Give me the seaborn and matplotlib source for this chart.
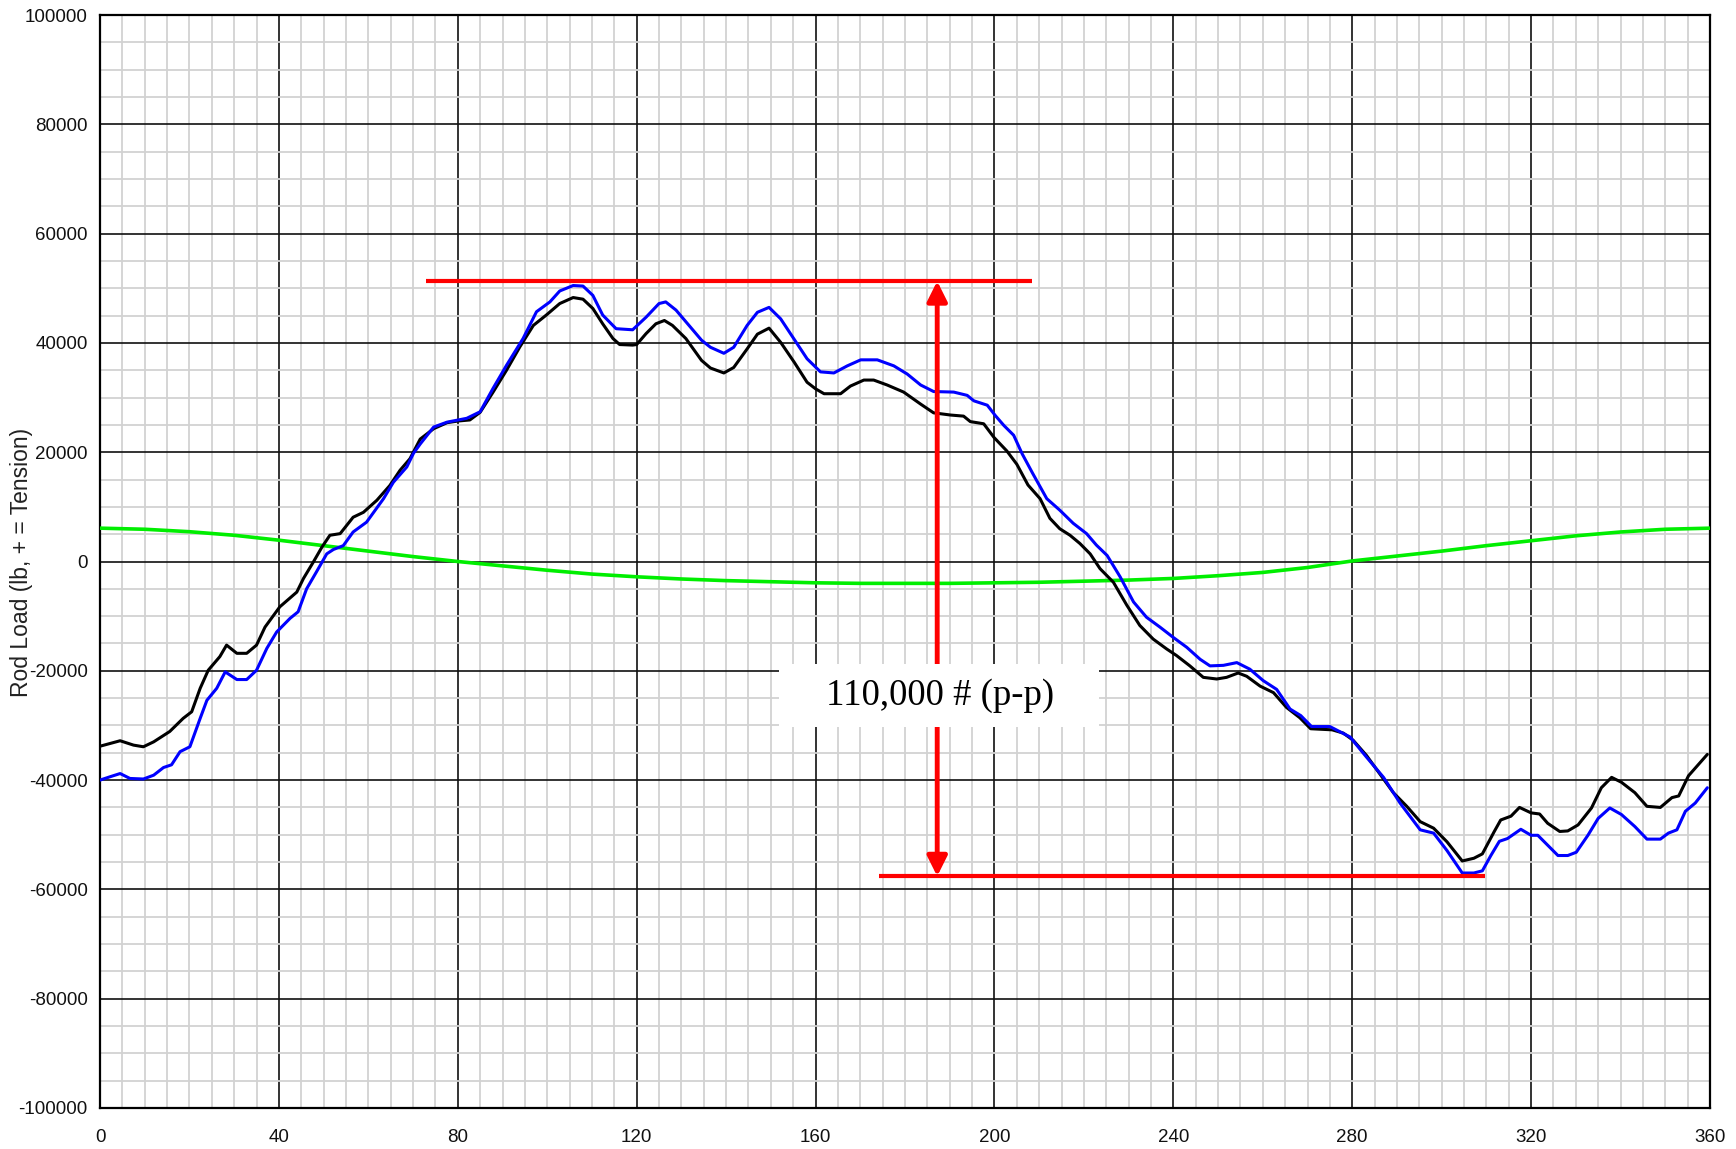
import numpy as np
import pandas as pd
import matplotlib
matplotlib.use("Agg")
import matplotlib.pyplot as plt
from matplotlib.ticker import MultipleLocator, FuncFormatter
from matplotlib.patches import Rectangle
import seaborn as sns

# Crank angle (deg) and rod load (lb) for the measured rod load trace
black_angle = [0, 4.5, 7.5, 9.7, 12, 15.6, 18.6, 20.5, 22.4, 24.2, 26.8, 28.3, 30.6, 32.8, 35,
               36.9, 40.2, 44, 45.5, 47.7, 49.6, 51.4, 53.7, 56.6, 58.9, 61.9, 64.8, 67.1, 69.3,
               71.6, 74.6, 77.6, 80, 82.7, 85, 87.9, 90.9, 93.9, 96.9, 99.8, 102.8, 105.8, 108,
               110.2, 112.4, 114.7, 116.2, 119.1, 120, 122.1, 124.3, 126.2, 128, 131, 134.5,
               136.5, 139.5, 141.7, 144.7, 147, 149.6, 152.2, 155.2, 158.1, 160, 161.9, 165.6,
               167.8, 170.8, 173, 176, 179.7, 183.5, 186.4, 190.2, 193.1, 194.6, 197.6, 199.9,
               202.8, 205, 207.5, 210.2, 212.4, 214.6, 216.9, 219.1, 221.4, 223.6, 226.6, 229.6,
               232.5, 235.5, 238.5, 240.7, 243.7, 246.7, 249.7, 251.9, 254.5, 256.4, 259.4, 262.4,
               265.3, 268.3, 270.7, 275.5, 278, 280.2, 283.2, 286.2, 289.2, 292.2, 295.2, 298.2,
               301.2, 304.6, 307.2, 309.1, 311.7, 313.2, 315.5, 317.4, 320, 321.9, 323.7, 326.4,
               328.2, 330.5, 333.5, 335.7, 338, 340.2, 343.2, 345.9, 348.9, 351.5, 353, 355.2,
               359.4]
black_load = [-33800, -32800, -33600, -33900, -33000, -31100, -28700, -27500, -23200, -19900,
              -17400, -15300, -16800, -16800, -15300, -12000, -8300, -5600, -3100, -100, 2600,
              4800, 5100, 8100, 9000, 11200, 13900, 16700, 18800, 22400, 24300, 25400, 25700,
              25900, 27300, 31000, 35000, 39300, 43200, 45100, 47200, 48300, 48000, 46300, 43500,
              40800, 39700, 39600, 39700, 41700, 43500, 44100, 43200, 40800, 36800, 35400, 34500,
              35500, 38900, 41600, 42700, 40100, 36500, 32800, 31600, 30700, 30700, 32100, 33200,
              33200, 32300, 31000, 28800, 27200, 26800, 26600, 25600, 25200, 22700, 20200, 17800,
              14000, 11500, 7900, 6000, 4800, 3300, 1400, -1300, -3800, -8000, -11700, -14200,
              -16000, -17200, -19100, -21200, -21500, -21200, -20400, -21000, -22800, -24000,
              -26700, -28600, -30600, -30800, -31400, -32700, -35500, -38900, -42300, -44800,
              -47600, -48800, -51300, -54800, -54300, -53500, -49500, -47300, -46600, -45000,
              -46000, -46200, -47900, -49400, -49300, -48200, -45100, -41400, -39500, -40400,
              -42300, -44800, -45000, -43200, -42900, -39200, -35300]

# Calculated rod load trace
blue_angle = [0, 2.2, 4.5, 6.7, 9.7, 12, 14.2, 16, 17.9, 20.1, 22.4, 23.9, 26.1, 28, 30.6, 32.8,
              35, 37.3, 39.5, 42.5, 44.3, 46.2, 48.4, 50.7, 52.2, 54.4, 56.6, 59.6, 63.4, 65.6,
              68.6, 70.1, 71.6, 74.6, 77.6, 82, 85, 87.9, 90.9, 94.6, 97.6, 100.6, 102.8, 105.8,
              108, 110.2, 112.4, 115.4, 119.1, 122.1, 125, 126.5, 128.8, 131.7, 134.5, 136.5,
              139.5, 141.7, 144.7, 147, 149.6, 152.2, 155.2, 158.1, 161.1, 164.1, 167.1, 170.1,
              173.8, 177.5, 180.5, 183.5, 186.4, 190.9, 193.9, 195.4, 198.4, 200.2, 202.1, 204.3,
              206.2, 208.5, 211.7, 214.6, 217.6, 220.6, 222.8, 225.2, 228.1, 231.1, 234, 237, 240,
              243, 246, 248.2, 251.2, 254.2, 257.1, 260.1, 263.1, 266.1, 268.5, 270.9, 275, 279.5,
              283.2, 287, 290.7, 295.2, 298.2, 301.2, 304.6, 307.2, 309.1, 311, 312.9, 314.7,
              317.7, 320, 321.5, 323.7, 326, 328.2, 330.1, 332.7, 335, 337.6, 340.2, 343.2, 345.9,
              348.9, 350.7, 352.6, 354.5, 356.7, 359.4]
blue_load = [-40000, -39400, -38800, -39700, -39800, -39100, -37700, -37200, -34800, -33900,
             -28700, -25400, -23200, -20200, -21600, -21600, -19900, -15900, -12900, -10400,
             -9200, -5000, -1900, 1400, 2200, 2900, 5400, 7200, 11500, 14500, 17300, 19800, 21500,
             24600, 25500, 26200, 27400, 31700, 35900, 40800, 45700, 47500, 49500, 50500, 50400,
             48700, 45100, 42600, 42400, 44700, 47200, 47500, 46000, 43200, 40500, 39200, 38100,
             39200, 43200, 45600, 46500, 44400, 40700, 37100, 34700, 34500, 35800, 36900, 36900,
             35800, 34300, 32300, 31100, 31000, 30400, 29400, 28600, 26700, 24900, 23100, 19700,
             16200, 11500, 9400, 7000, 5100, 3000, 1100, -2800, -7400, -10200, -12000, -13900,
             -15700, -17900, -19100, -19000, -18500, -19700, -21800, -23400, -27000, -28200,
             -30200, -30200, -32100, -35800, -39500, -44200, -49100, -49700, -52900, -57000,
             -57000, -56600, -53800, -51200, -50700, -49000, -50100, -50100, -51900, -53800,
             -53800, -53200, -50100, -47000, -45100, -46300, -48500, -50800, -50800, -49700,
             -49100, -45700, -44200, -41400]

# Gas load component
green_angle = [0, 10, 20, 30, 40, 50, 60, 70, 80, 90, 100, 110, 120, 130, 140, 150, 160, 170,
               180, 190, 200, 210, 220, 230, 240, 250, 260, 270, 280, 290, 300, 310, 320, 330,
               340, 350, 360]
green_load = [6100, 5900, 5450, 4800, 3900, 2900, 1900, 900, 0, -800, -1600, -2300, -2800, -3200,
              -3500, -3700, -3900, -4000, -4000, -4000, -3900, -3800, -3600, -3400, -3100, -2600,
              -2000, -1100, 100, 1000, 1900, 2900, 3800, 4700, 5400, 5900, 6100]

# Peak-to-peak markers
peak_span = [72.8, 208.5]
peak_load = 51300
trough_span = [174.2, 309.8]
trough_load = -57600
arrow_angle = 187.2
pp_label = "110,000 # (p-p)"
label_angle = 187.9
label_load = -24500
label_box_angle = [151.8, 223.4]
label_box_load = [-30300, -18750]

x_ticks = list(range(0, 361, 40))
y_ticks = list(range(-100000, 100001, 20000))

sns.set_theme(style="white")
plt.rcParams["font.family"] = ["Liberation Sans", "DejaVu Sans"]

fig = plt.figure(figsize=(17.36, 11.49), dpi=100, facecolor="white")
ax = fig.add_axes([100 / 1736, 1 - 1108 / 1149, 1610 / 1736, 1093 / 1149])
ax.set_facecolor("white")

df_black = pd.DataFrame({"angle": black_angle, "load": black_load})
df_blue = pd.DataFrame({"angle": blue_angle, "load": blue_load})
df_green = pd.DataFrame({"angle": green_angle, "load": green_load})

sns.lineplot(data=df_green, x="angle", y="load", color="#00ee00", linewidth=2.6, ax=ax,
             estimator=None, sort=False, zorder=3)
sns.lineplot(data=df_black, x="angle", y="load", color="black", linewidth=2.2, ax=ax,
             estimator=None, sort=False, zorder=4)
sns.lineplot(data=df_blue, x="angle", y="load", color="#0000ff", linewidth=2.2, ax=ax,
             estimator=None, sort=False, zorder=4)

# Peak / trough reference lines and the double arrow
ax.plot(peak_span, [peak_load, peak_load], color="#ff0000", linewidth=3, zorder=5,
        solid_capstyle="butt")
ax.plot(trough_span, [trough_load, trough_load], color="#ff0000", linewidth=3, zorder=5,
        solid_capstyle="butt")
ax.annotate("", xy=(arrow_angle, peak_load), xytext=(arrow_angle, trough_load),
            arrowprops=dict(arrowstyle="<|-|>", color="#ff0000", lw=3.5,
                            mutation_scale=30, shrinkA=0, shrinkB=0),
            zorder=5)

ax.add_patch(Rectangle((label_box_angle[0], label_box_load[0]),
                       label_box_angle[1] - label_box_angle[0],
                       label_box_load[1] - label_box_load[0],
                       facecolor="white", edgecolor="none", zorder=6))
ax.text(label_angle, label_load, pp_label, ha="center", va="center",
        fontsize=26.5, family=["Liberation Serif", "DejaVu Serif"], color="black", zorder=7)

ax.set_xlim(0, 360)
ax.set_ylim(-100000, 100000)
ax.xaxis.set_minor_locator(MultipleLocator(5))
ax.yaxis.set_minor_locator(MultipleLocator(5000))
ax.set_xticks(x_ticks)
ax.set_yticks(y_ticks)
ax.yaxis.set_major_formatter(FuncFormatter(lambda v, p: f"{int(round(v))}"))
ax.xaxis.set_major_formatter(FuncFormatter(lambda v, p: f"{int(round(v))}"))

ax.grid(which="minor", color="#d2d2d2", linewidth=1.3, zorder=0)
ax.grid(which="major", color="#111111", linewidth=1.2, zorder=1)
ax.set_axisbelow(True)
ax.tick_params(which="both", length=0)
ax.tick_params(axis="x", pad=15, labelsize=13.5, colors="#111111")
ax.tick_params(axis="y", pad=9, labelsize=13.5, colors="#111111")

for s in ax.spines.values():
    s.set_color("black")
    s.set_linewidth(1.6)
    s.set_visible(True)

ax.set_xlabel("")
ax.set_ylabel("")
fig.text(22 / 1736, 1 - 562 / 1149, "Rod Load (lb, + = Tension)", rotation=90,
         ha="center", va="center", fontsize=16.5, color="#222222")

fig.savefig("out.png", dpi=100, facecolor="white")
